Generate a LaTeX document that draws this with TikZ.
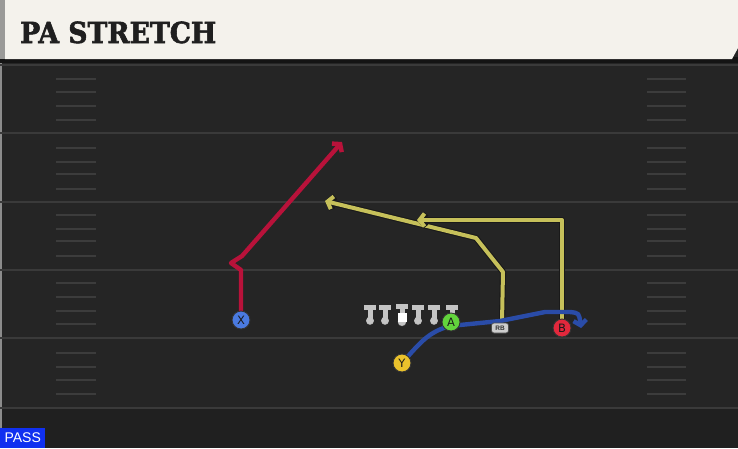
\documentclass[tikz,border=0pt]{standalone}
\usepackage{fontspec}
\setmainfont{DejaVu Sans}
\newfontfamily\headfont{DejaVu Serif}[BoldFeatures={FakeBold=2}]
\newfontfamily\tagfont{Liberation Sans}
\usetikzlibrary{arrows.meta}
\definecolor{fieldbg}{HTML}{252525}
\definecolor{fieldlow}{HTML}{202020}
\definecolor{bandc}{HTML}{141414}
\definecolor{creamc}{HTML}{F4F2EC}
\definecolor{stripc}{HTML}{9A9A98}
\definecolor{yardc}{HTML}{3A3A3A}
\definecolor{hashc}{HTML}{3C3C3C}
\definecolor{redroute}{HTML}{B8123A}
\definecolor{yelroute}{HTML}{C6C05A}
\definecolor{bluroute}{HTML}{2A4CA8}
\definecolor{xcol}{HTML}{4A7AE0}
\definecolor{acol}{HTML}{62D43C}
\definecolor{bcol}{HTML}{E2283C}
\definecolor{ycol}{HTML}{EAC22C}
\definecolor{linec}{HTML}{C4C4C4}
\definecolor{passc}{HTML}{1030F0}
\tikzset{
  yardline/.style={draw=yardc, line width=2pt},
  hashline/.style={draw=hashc, line width=1.6pt},
  player/.style={circle, draw=black!80, line width=0.9pt, minimum size=18pt, inner sep=0pt, font=\fontsize{11.5}{11.5}\selectfont, text=black!90},
  routered/.style={draw=redroute, line width=4.4pt, line join=round, -{Straight Barb[length=5pt,width=13pt]}},
  routeyel/.style={draw=yelroute, line width=4pt, line join=round, -{Straight Barb[length=5pt,width=13pt]}},
  routeyelo/.style={draw=black!90, line width=6.2pt, line join=round, -{Straight Barb[length=5pt,width=13pt]}},
  routeblu/.style={draw=bluroute, line width=4.4pt, line join=round, -{Straight Barb[length=5pt,width=13pt]}},
  lineman/.style={fill=linec},
  rbtag/.style={rounded corners=2.5pt, fill=linec!85, draw=black!70, line width=0.7pt, minimum width=17pt, minimum height=10pt, inner sep=0pt, font=\tagfont\fontsize{6.5}{6.5}\selectfont\bfseries, text=black!80},
  passlabel/.style={fill=passc, text=white, font=\tagfont\fontsize{14}{14}\selectfont, inner sep=0pt, minimum width=45pt, minimum height=20pt, anchor=south west}
}
\begin{document}
\begin{tikzpicture}[x=1pt,y=-1pt]
\useasboundingbox (0,0) rectangle (738,448);
% background
\fill[fieldbg] (0,0) rectangle (738,448);
\fill[fieldlow] (0,409) rectangle (738,448);
\fill[black!45] (0,60) rectangle (2,448);
\fill[bandc] (0,57) rectangle (738,63);
% header
\fill[creamc] (5,0) -- (738,0) -- (738,48) -- (732,59) -- (5,59) -- cycle;
\fill[stripc] (0,0) rectangle (5,59);
\node[anchor=base west, inner sep=0pt, text=black!88, font=\headfont\bfseries\fontsize{29}{29}\selectfont, xscale=0.92] (title) at (20,43) {PA STRETCH};
% yard lines
\foreach \yy in {65,133,202,270,338,408} {
  \draw[yardline] (0,\yy) -- (738,\yy);
}
% hash marks
\foreach \yy in {79,92,106,120,148,162,174,189,215,229,241,256,283,297,311,324,353,367,380,394} {
  \draw[hashline] (56,\yy) -- (96,\yy);
  \draw[hashline] (647,\yy) -- (686,\yy);
}
% route coordinates
\coordinate (r1) at (241,270);
\coordinate (r2) at (231,263);
\coordinate (r3) at (242,256);
\coordinate (rend) at (342,142);
\coordinate (k1) at (502,322);
\coordinate (k2) at (503,272);
\coordinate (k3) at (476,238);
\coordinate (kend) at (325,201);
\coordinate (b1) at (562,220);
\coordinate (bend) at (417,220);
\coordinate (u1) at (450,326);
\coordinate (u2) at (500,321);
\coordinate (u3) at (545,312);
\coordinate (u4) at (570,312);
\coordinate (uend) at (581,328);
% player positions
\coordinate (Xp) at (241,320);
\coordinate (Yp) at (402,363);
\coordinate (Bp) at (562,328);
\coordinate (RBp) at (500,328);
% red route
\draw[routered] (Xp) -- (r1) -- (r2) -- (r3) -- (rend);
% yellow routes
\draw[routeyelo] (k1) -- (k2) -- (k3) -- (kend);
\draw[routeyel] (k1) -- (k2) -- (k3) -- (kend);
\draw[routeyelo] (Bp) -- (b1) -- (bend);
\draw[routeyel] (Bp) -- (b1) -- (bend);
% blue route
\draw[routeblu] (Yp) .. controls (420,343) and (428,332) .. (u1) -- (u2) -- (u3) -- (u4) .. controls (579,313) .. (uend);
% linemen
\foreach \xx in {370,385,418,434,452} {
  \fill[lineman] (\xx-6,304.5) rectangle (\xx+6,309.5);
  \fill[lineman] (\xx-2.5,309.5) rectangle (\xx+2.5,318);
  \fill[black!40] (\xx,321) circle (3.9);
  \fill[lineman] (\xx,320.5) circle (3.8);
}
\fill[lineman] (396,303.5) rectangle (408,308.5);
\fill[lineman] (399.5,308.5) rectangle (404.5,313);
\fill[black!40] (402,322) circle (4.2);
\fill[lineman] (402,321.5) circle (4.1);
\fill[white] (397.5,313) rectangle (406.5,322);
% players
\node[player, fill=xcol] (X) at (Xp) {X};
\node[player, fill=ycol] (Y) at (Yp) {Y};
\node[player, fill=acol] (A) at (451,322) {A};
\node[player, fill=bcol] (B) at (Bp) {B};
\node[rbtag] (RB) at (RBp) {RB};
% pass label
\node[passlabel] (pass) at (0,448) {PASS};
\end{tikzpicture}
\end{document}
